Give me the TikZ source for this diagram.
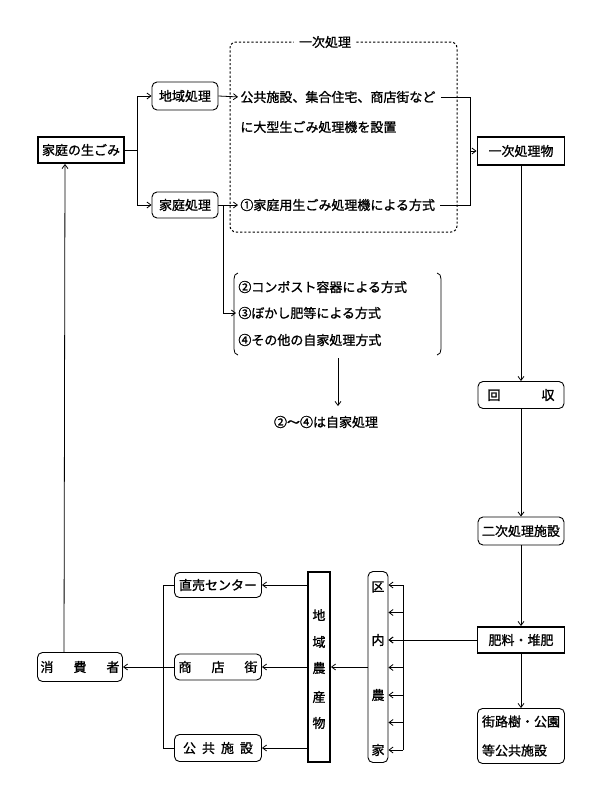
\documentclass[tikz,border=0pt]{standalone}
\usepackage{fontspec}
\setmainfont{Noto Sans CJK JP}[FakeBold=1.2]
\usetikzlibrary{arrows.meta,calc}
\begin{document}
\begin{tikzpicture}[x=1pt,y=-1pt, font=\fontsize{13pt}{15pt}\selectfont, line width=0.8pt,
  thickbox/.style={draw,line width=1.9pt,inner sep=0pt},
  rbox/.style={draw,rounded corners=5pt,inner sep=0pt,line width=0.9pt},
  arr/.style={-{Straight Barb[length=4pt,width=6pt]}},
  txt/.style={inner sep=0pt,anchor=west},
  lbl/.style={inner sep=0pt}]
\useasboundingbox (0,0) rectangle (600,793);

% top left
\node[thickbox,minimum width=86pt,minimum height=26pt] (home) at (81,150) {家庭の生ごみ};
\node[rbox,minimum width=66pt,minimum height=28pt] (chiiki) at (185,96) {地域処理};
\node[rbox,minimum width=66pt,minimum height=26pt] (katei) at (185,205) {家庭処理};

% dashed frame
\node[draw,dash pattern=on 2.2pt off 2pt,rounded corners=6pt,line width=1pt,minimum width=227pt,minimum height=190pt,inner sep=0pt] (phase) at (343.5,137) {};
\node[fill=white,inner xsep=5pt,inner ysep=1pt] (phtitle) at (325,42) {一次処理};

\node[txt] (t1) at (240,97) {公共施設、集合住宅、商店街など};
\node[txt] (t2) at (240,127) {に大型生ごみ処理機を設置};
\node[txt] (t3) at (240,205) {①家庭用生ごみ処理機による方式};

\coordinate (split) at (137,150);
\draw (home.east) -- (split);
\draw[arr] (split) |- (chiiki.west);
\draw[arr] (split) |- (katei.west);
\draw[arr,shorten >=2pt] (chiiki.east) -- (t1.west);
\coordinate (kd) at (223,205);
\draw (katei.east) -- (kd);
\draw[arr,shorten >=2pt] (kd) -- (t3.west);

% bracket texts
\node[txt] (b2) at (238,287) {②コンポスト容器による方式};
\node[txt] (b3) at (238,313) {③ぼかし肥等による方式};
\node[txt] (b4) at (238,340) {④その他の自家処理方式};
\draw[arr] (kd) |- ([xshift=-2pt]b3.west);
\draw (238,273) to[out=180,in=90] (234,279) -- (234,349) to[out=-90,in=180] (238,355);
\draw (437,273) to[out=0,in=90] (441,279) -- (441,349) to[out=-90,in=0] (437,355);
\coordinate (bb) at (338,358);
\coordinate (be) at (338,406);
\draw[arr] (bb) -- (be);
\node[lbl] (note) at (326,422) {②～④は自家処理};

% collector to ichiji
\coordinate (cA) at (470,97);
\coordinate (cB) at (470,205);
\coordinate (cM) at (470,151);
\draw ([xshift=5pt]t1.east) -- (cA) -- (cB) -- ([xshift=5pt]t3.east);

% right column
\node[thickbox,minimum width=87pt,minimum height=28pt] (ichiji) at (521,151) {一次処理物};
\node[rbox,minimum width=86pt,minimum height=27pt] (kaishu) at (521,395) {回\hspace{41pt}収};
\node[rbox,minimum width=86pt,minimum height=28pt] (niji) at (521,531) {二次処理施設};
\node[thickbox,minimum width=87pt,minimum height=26pt] (hiryo) at (521,640) {肥料・堆肥};
\node[rbox,minimum width=87pt,minimum height=55pt,align=left] (gairo) at (521,736) {街路樹・公園\\[14pt]等公共施設};
\draw[arr] (cM) -- (ichiji.west);
\draw[arr] (ichiji.south) -- (kaishu.north);
\draw[arr] (kaishu.south) -- (niji.north);
\draw[arr] (niji.south) -- (hiryo.north);
\draw[arr] (hiryo.south) -- (gairo.north);

% kunai nouka
\node[rbox,minimum width=20pt,minimum height=191pt] (kunai) at (378,667) {};
\node[lbl] (k1) at (378,587) {区};
\node[lbl] (k2) at (378,640) {内};
\node[lbl] (k3) at (378,695) {農};
\node[lbl] (k4) at (378,750) {家};
\foreach \i/\yy in {1/585,2/612.5,3/640,4/667.5,5/695,6/722.5,7/750}{
  \coordinate (v\i) at (403,\yy);
  \draw[arr] (v\i) -- (v\i -| kunai.east);
}
\draw (v1) -- (v7);
\draw[arr] (hiryo.west) -- (hiryo.west -| kunai.east);

% chiiki nousanbutsu
\node[thickbox,minimum width=22pt,minimum height=190pt] (chisan) at (319,667) {};
\node[lbl] (c1) at (319,615) {地};
\node[lbl] (c2) at (319,642) {域};
\node[lbl] (c3) at (319,668) {農};
\node[lbl] (c4) at (319,697) {産};
\node[lbl] (c5) at (319,723) {物};
\draw[arr] (kunai.west) -- (chisan.east);

% outlets
\node[rbox,minimum width=87pt,minimum height=25pt] (choku) at (218,585) {直売センター};
\node[rbox,minimum width=87pt,minimum height=26pt] (shoten) at (218,667) {商\hspace{20pt}店\hspace{20pt}街};
\node[rbox,minimum width=87pt,minimum height=27pt] (koukyo) at (218,748) {公\hspace{6pt}共\hspace{6pt}施\hspace{6pt}設};
\draw[arr] (chisan.west |- choku) -- (choku.east);
\draw[arr] (chisan.west |- shoten) -- (shoten.east);
\draw[arr] (chisan.west |- koukyo) -- (koukyo.east);
\coordinate (lt) at (163,585);
\coordinate (lbm) at (163,748);
\draw (choku.west) -- (lt) -- (lbm) -- (koukyo.west);

\node[rbox,minimum width=85pt,minimum height=29pt] (shohi) at (80,667) {消\hspace{20pt}費\hspace{20pt}者};
\draw[arr] (shoten.west) -- (shohi.east);
\draw[arr] ([xshift=-16pt]shohi.north) -- ([xshift=-16pt]home.south);
\end{tikzpicture}
\end{document}
